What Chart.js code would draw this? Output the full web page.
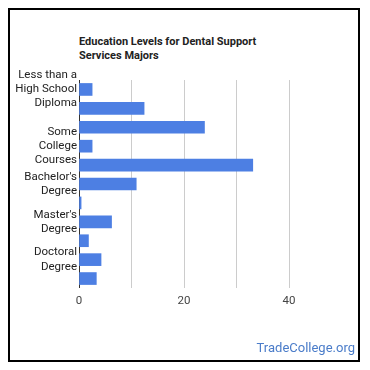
<!DOCTYPE html>
<html>
<head>
<meta charset="utf-8">
<script src="https://cdn.jsdelivr.net/npm/chart.js@4"></script>
<style>
  body { margin: 0; background: #fff; font-family: Roboto, Arial, sans-serif; }
  #wrap { position: relative; width: 370px; height: 370px; }
  #frame { position: absolute; left: 8px; top: 8px; width: 352px; height: 354px; border: 2px solid #000; box-sizing: border-box; }
  #title { position: absolute; left: 79px; top: 35px; font-size: 11px; font-weight: bold; color: #222; line-height: 13.5px; }
  #brand { position: absolute; right: 15px; top: 340px; font-size: 13px; color: #4a7cc9; }
  canvas { position: absolute; left: 0; top: 0; }
</style>
</head>
<body>
<div id="wrap">
  <div id="frame"></div>
  <div id="title">Education Levels for Dental Support<br>Services Majors</div>
  <canvas id="eduChart" width="370" height="370"></canvas>
  <div id="brand">TradeCollege.org</div>
</div>
<script>
const categories = ['Less than a High School Diploma', 'High School Diploma', 'Post-Secondary Certificate',
  'Some College Courses', "Associate's Degree", "Bachelor's Degree", 'Post-Baccalaureate Certificate',
  "Master's Degree", "Post-Master's Certificate", 'Doctoral Degree', 'Post-Doctoral Training'];
const percents = [2.5, 12.4, 23.9, 2.5, 33.1, 10.9, 0.4, 6.2, 1.8, 4.2, 3.3];
// only some category labels fit in the picture
const shownLabels = [['Less than a', 'High School', 'Diploma'], null, null, ['Some', 'College', 'Courses'], null,
  ["Bachelor's", 'Degree'], null, ["Master's", 'Degree'], null, ['Doctoral', 'Degree'], null];
const xTickLabels = [0, 20, 40];

new Chart(document.getElementById('eduChart').getContext('2d'), {
  type: 'bar',
  data: {
    labels: categories,
    datasets: [{
      data: percents,
      backgroundColor: '#4d7fe3',
      barThickness: 12
    }]
  },
  options: {
    indexAxis: 'y',
    responsive: false,
    animation: false,
    layout: { padding: { top: 80, right: 81, bottom: 60, left: 0 } },
    plugins: { legend: { display: false }, tooltip: { enabled: false } },
    scales: {
      x: {
        min: 0, max: 40,
        afterFit: s => { s.height = 22; },
        border: { display: false },
        grid: {
          drawTicks: false,
          color: c => c.tick && c.tick.value === 0 ? '#333' : '#ccc'
        },
        ticks: {
          stepSize: 10,
          padding: 6,
          color: '#444',
          font: { family: 'Roboto', size: 11.5 },
          callback: v => xTickLabels.includes(v) ? String(v) : ''
        }
      },
      y: {
        afterFit: s => { s.width = 79; },
        border: { display: false },
        grid: { display: false, drawTicks: false },
        ticks: {
          autoSkip: false,
          padding: 2,
          color: '#222',
          font: { family: 'Roboto', size: 11.5, lineHeight: 1.22 },
          callback: (v, i) => shownLabels[i] || ''
        }
      }
    }
  }
});
</script>
</body>
</html>
